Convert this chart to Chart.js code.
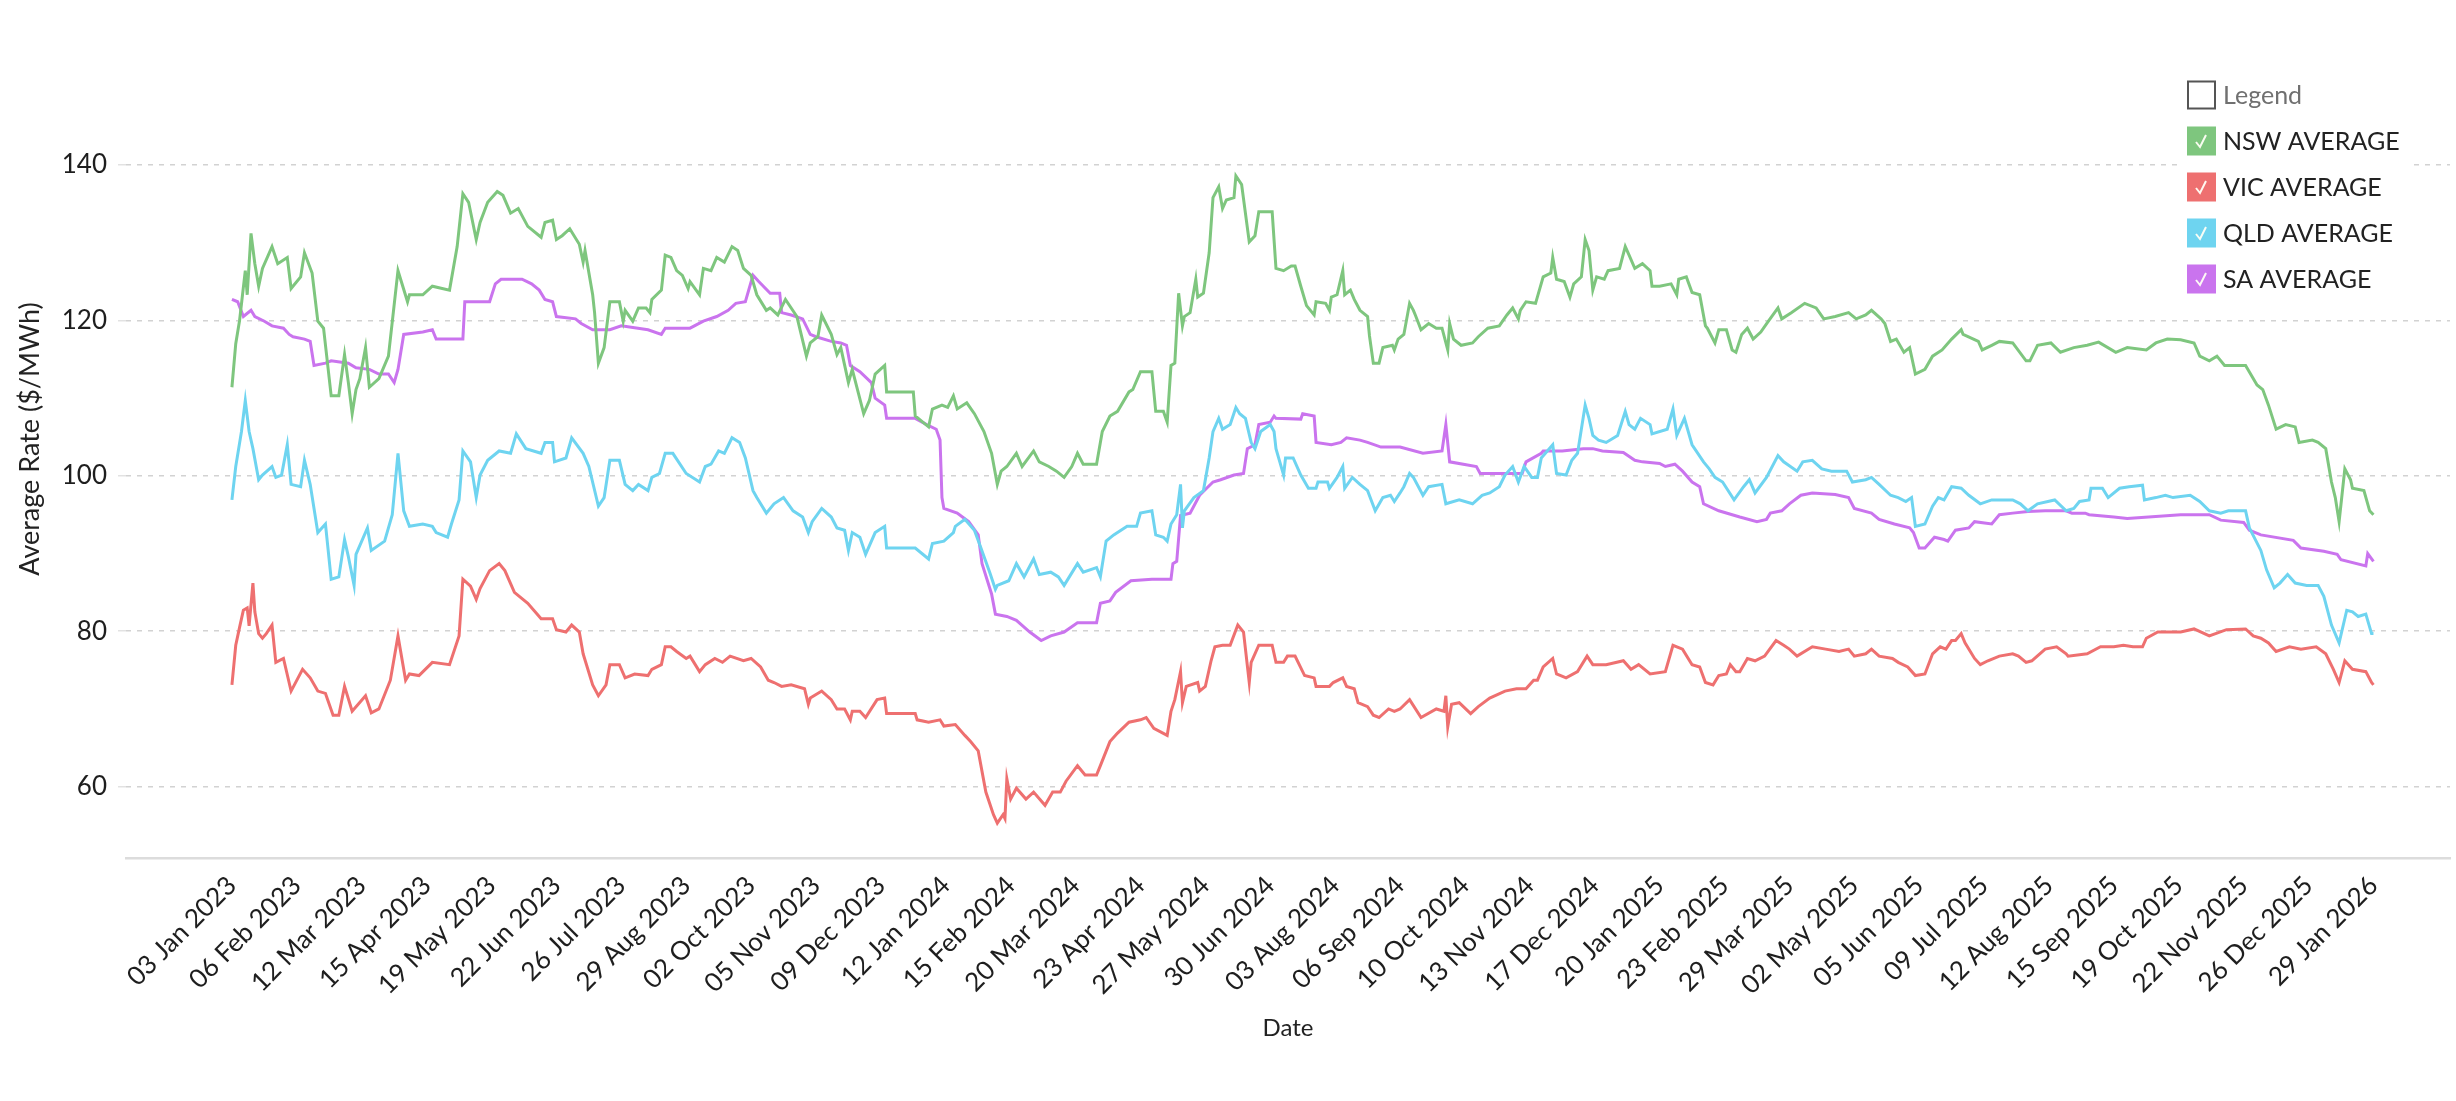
<!DOCTYPE html>
<html>
<head>
<meta charset="utf-8">
<script src="https://cdn.jsdelivr.net/npm/chart.js@4.4.1/dist/chart.umd.min.js"></script>
<style>
html,body{margin:0;padding:0;background:#fff;}
#wrap{width:2456px;height:1101px;position:relative;}
canvas{display:block;}
</style>
</head>
<body>
<div id="wrap"><canvas id="c" width="2456" height="1101"></canvas></div>
<script>
// Day offsets are counted from 03 Jan 2023 (day 0).
const START_DATE = '03 Jan 2023';
const tickLabels = ['03 Jan 2023','06 Feb 2023','12 Mar 2023','15 Apr 2023','19 May 2023','22 Jun 2023','26 Jul 2023','29 Aug 2023','02 Oct 2023','05 Nov 2023','09 Dec 2023','12 Jan 2024','15 Feb 2024','20 Mar 2024','23 Apr 2024','27 May 2024','30 Jun 2024','03 Aug 2024','06 Sep 2024','10 Oct 2024','13 Nov 2024','17 Dec 2024','20 Jan 2025','23 Feb 2025','29 Mar 2025','02 May 2025','05 Jun 2025','09 Jul 2025','12 Aug 2025','15 Sep 2025','19 Oct 2025','22 Nov 2025','26 Dec 2025','29 Jan 2026'];
const yTicks = [60, 80, 100, 120, 140];
const seriesNames = ['NSW AVERAGE','VIC AVERAGE','QLD AVERAGE','SA AVERAGE'];
const legendTitle = 'Legend';
const xTitle = 'Date';
const yTitle = 'Average Rate ($/MWh)';

// [day, $/MWh]
const nsw = [[0,111.4],[2,117],[4,120],[7,126.4],[8,123.3],[10,131.2],[12,127.3],[14,124.4],[16,126.7],[21,129.5],[24,127.3],[29,128.1],[31,124.1],[36,125.6],[38,128.7],[42,126.1],[45,119.9],[48,119],[52,110.3],[56,110.3],[59,115.6],[61,112],[63,108],[65,111.1],[67,112.5],[70,116.5],[72,111.4],[77,112.5],[82,115.4],[87,126.4],[92,122.4],[93,123.3],[100,123.3],[105,124.4],[114,123.9],[118,129.5],[121,136.3],[124,135.2],[128,130.4],[130,132.6],[134,135.2],[139,136.6],[142,136.1],[146,133.8],[150,134.4],[155,132.1],[162,130.7],[164,132.6],[168,132.9],[170,130.4],[173,130.9],[177,131.8],[182,129.8],[184,127.5],[185,129],[189,123.3],[190,121],[192,114.5],[195,116.5],[198,122.4],[203,122.4],[205,119.9],[206,121.3],[210,119.9],[213,121.6],[217,121.6],[219,121],[220,122.7],[225,123.9],[227,128.4],[230,128.1],[233,126.4],[236,125.8],[239,124.1],[240,125],[245,123.3],[247,126.7],[251,126.4],[254,128.1],[258,127.5],[262,129.5],[265,129],[268,126.7],[272,125.8],[275,123.3],[280,121.3],[282,121.6],[286,120.7],[290,122.7],[296,120.5],[301,115.4],[303,117.1],[307,117.9],[309,120.7],[314,118.2],[317,115.6],[319,116.5],[323,112],[325,113.7],[331,108],[334,109.7],[337,113.1],[342,114.2],[343,110.8],[357,110.8],[358,107.7],[365,106.3],[367,108.6],[372,109.1],[375,108.8],[378,110.3],[380,108.6],[385,109.4],[389,108],[394,105.7],[398,102.9],[401,98.9],[403,100.6],[406,101.2],[411,102.9],[414,101.2],[420,103.2],[423,101.8],[428,101.2],[432,100.6],[436,99.8],[440,101.2],[443,102.9],[446,101.5],[453,101.5],[456,105.7],[460,107.7],[464,108.3],[470,110.8],[472,111.1],[476,113.4],[482,113.4],[484,108.3],[488,108.3],[490,106.9],[492,114.2],[494,114.5],[496,123.5],[498,119.3],[499,120.5],[502,121],[505,125.3],[506,123],[509,123.5],[512,128.7],[514,135.8],[517,137.2],[519,134.4],[521,135.5],[525,135.8],[526,138.6],[529,137.5],[533,130.1],[536,130.9],[538,134],[545,134],[547,126.7],[551,126.4],[555,127],[557,127],[560,124.4],[563,121.9],[567,120.7],[568,122.4],[573,122.2],[575,121.3],[576,123],[579,123.3],[582,126.4],[583,123.3],[586,123.9],[588,122.7],[591,121.3],[595,120.5],[596,118],[598,114.5],[601,114.5],[603,116.5],[608,116.8],[609,116.2],[611,117.6],[614,118.2],[617,122.2],[619,121.3],[620,120.7],[623,118.8],[627,119.6],[631,119],[634,119],[637,116.2],[638,119.6],[640,117.6],[644,116.8],[650,117.1],[653,117.9],[658,119],[664,119.3],[668,120.7],[671,121.6],[674,120.2],[675,121.3],[678,122.4],[683,122.2],[687,125.6],[691,126.1],[692,128.1],[694,125.3],[698,125],[701,123],[703,124.7],[707,125.6],[709,130.4],[711,129],[713,123.9],[715,125.6],[719,125.3],[721,126.4],[727,126.7],[730,129.5],[732,128.4],[735,126.7],[739,127.3],[743,126.4],[744,124.4],[748,124.4],[754,124.7],[757,123.3],[758,125.3],[762,125.6],[765,123.6],[769,123.3],[772,119.3],[773,119],[777,117.1],[779,118.8],[783,118.8],[786,116.2],[788,115.9],[791,118.2],[794,119],[797,117.6],[801,118.5],[805,119.9],[810,121.6],[812,120.2],[817,121],[824,122.2],[830,121.6],[834,120.2],[840,120.5],[847,121],[851,120.2],[856,120.7],[859,121.3],[864,120.2],[866,119.6],[869,117.3],[872,117.6],[876,115.9],[879,116.5],[882,113.1],[887,113.7],[891,115.4],[896,116.2],[901,117.6],[906,118.8],[907,118.2],[915,117.3],[917,116.2],[922,116.8],[926,117.3],[933,117.1],[940,114.8],[942,114.8],[946,116.8],[953,117.1],[958,115.9],[965,116.5],[972,116.8],[978,117.2],[987,115.9],[993,116.5],[1003,116.2],[1008,117.1],[1014,117.6],[1021,117.5],[1028,117.1],[1031,115.4],[1036,114.8],[1040,115.4],[1044,114.2],[1055,114.2],[1061,111.7],[1064,111.1],[1067,109.1],[1071,106],[1076,106.6],[1081,106.3],[1083,104.3],[1090,104.6],[1093,104.3],[1097,103.5],[1100,99.2],[1102,97.2],[1104,94.1],[1107,100.9],[1110,99.5],[1111,98.4],[1117,98.1],[1120,95.5],[1122,95]];

const vic = [[0,73.1],[2,78.2],[4,80.5],[6,82.7],[8,83],[9,80.7],[11,86.2],[12,82.5],[14,79.7],[16,79.1],[18,79.7],[21,80.8],[23,76],[27,76.5],[31,72.3],[37,75.1],[41,74],[45,72.3],[49,72],[53,69.2],[56,69.2],[59,72.9],[63,69.7],[70,71.7],[73,69.5],[77,70],[83,73.7],[87,79.4],[91,73.7],[93,74.5],[98,74.3],[105,76],[114,75.7],[119,79.4],[121,86.7],[125,85.8],[128,84.1],[130,85.5],[135,87.8],[140,88.7],[143,87.8],[148,85],[155,83.6],[162,81.6],[168,81.6],[170,80.2],[175,79.9],[178,80.8],[182,79.9],[184,77.1],[189,73.1],[192,71.7],[196,73.1],[198,75.7],[203,75.7],[206,74],[211,74.5],[218,74.3],[220,75.1],[225,75.7],[227,78],[230,78],[233,77.4],[238,76.5],[240,76.8],[245,74.8],[248,75.7],[253,76.5],[257,76],[261,76.8],[268,76.2],[272,76.5],[277,75.4],[281,73.7],[284,73.4],[288,72.9],[293,73.1],[300,72.6],[302,70.6],[303,71.4],[309,72.3],[314,71.2],[317,70],[321,70],[324,68.6],[325,69.7],[329,69.7],[332,68.9],[338,71.2],[342,71.4],[343,69.4],[358,69.4],[359,68.6],[365,68.3],[371,68.6],[373,67.8],[379,68],[384,66.6],[387,65.8],[391,64.6],[395,59.3],[399,56.4],[401,55.3],[404,56.4],[405,55.9],[406,61],[408,58.4],[411,59.8],[416,58.4],[420,59.3],[426,57.6],[430,59.3],[434,59.3],[437,60.7],[443,62.7],[447,61.5],[453,61.5],[455,62.7],[460,65.8],[464,66.9],[470,68.3],[476,68.6],[479,68.9],[483,67.5],[490,66.6],[492,69.7],[494,71.2],[497,74.8],[498,70.8],[500,72.9],[506,73.4],[507,72.3],[510,72.9],[513,76.2],[515,78],[519,78.2],[523,78.2],[527,80.8],[530,79.9],[533,73.4],[534,76],[538,78.2],[545,78.2],[547,76],[551,76],[553,76.8],[557,76.8],[562,74.3],[567,74],[568,72.9],[575,72.9],[577,73.4],[582,74],[584,72.9],[588,72.6],[590,70.8],[595,70.3],[598,69.2],[601,68.9],[606,70],[609,69.7],[612,70],[617,71.2],[623,68.9],[631,70],[635,69.7],[636,71.7],[637,67.7],[639,70.6],[643,70.8],[649,69.4],[653,70.3],[659,71.4],[667,72.3],[673,72.6],[678,72.6],[682,73.7],[684,73.7],[687,75.4],[692,76.5],[694,74.5],[699,74],[705,74.8],[710,76.8],[713,75.7],[720,75.7],[729,76.2],[733,75.1],[737,75.7],[743,74.5],[751,74.8],[755,78.2],[760,77.7],[765,75.7],[769,75.4],[772,73.4],[776,73.1],[779,74.3],[783,74.5],[785,75.7],[788,74.8],[790,74.8],[794,76.5],[798,76.2],[803,76.8],[809,78.8],[813,78.2],[816,77.7],[820,76.8],[828,78],[835,77.7],[842,77.4],[847,77.7],[850,76.8],[856,77.1],[859,77.7],[863,76.8],[870,76.5],[873,76],[878,75.4],[882,74.3],[887,74.5],[891,77.1],[895,78],[898,77.7],[901,78.8],[903,78.8],[906,79.7],[908,78.5],[913,76.5],[916,75.7],[920,76.2],[926,76.8],[933,77.1],[936,76.8],[940,76],[943,76.2],[950,77.7],[956,78],[961,77.1],[962,76.8],[972,77.1],[979,78],[986,78],[991,78.2],[996,78],[1001,78],[1003,79.1],[1009,79.9],[1021,79.9],[1028,80.3],[1036,79.4],[1045,80.2],[1055,80.3],[1059,79.4],[1063,79.1],[1067,78.5],[1071,77.4],[1078,78],[1084,77.7],[1092,78],[1097,77.1],[1101,75.1],[1104,73.4],[1107,76.2],[1111,75.1],[1118,74.8],[1121,73.4],[1122,73.1]];

const qld = [[0,96.9],[2,101.2],[5,105.7],[7,109.7],[9,105.7],[10,104.6],[11,103.5],[14,99.5],[16,100.1],[21,101.2],[23,99.8],[26,100.1],[29,104],[31,98.9],[36,98.6],[38,102],[41,98.9],[45,92.7],[49,93.8],[52,86.7],[56,87],[59,91.8],[61,89.6],[64,85.9],[65,89.9],[71,93.3],[73,90.4],[80,91.6],[84,95],[87,102.9],[90,95.5],[93,93.5],[100,93.8],[105,93.5],[107,92.7],[113,92.1],[115,93.8],[119,96.9],[121,103.2],[125,101.8],[128,97.2],[130,100.1],[134,102],[140,103.2],[146,102.9],[149,105.4],[154,103.5],[162,102.9],[164,104.3],[168,104.3],[169,101.8],[175,102.3],[178,104.9],[184,102.9],[187,101.2],[192,96.1],[195,97.2],[198,102],[203,102],[206,98.9],[210,98.1],[213,98.9],[218,98.1],[220,99.8],[224,100.3],[227,102.9],[231,102.9],[238,100.3],[245,99.2],[248,101.2],[251,101.5],[255,103.2],[258,102.9],[262,104.9],[266,104.3],[269,102.3],[273,98.1],[275,97.2],[280,95.2],[284,96.4],[289,97.2],[294,95.5],[299,94.7],[302,92.7],[304,94.1],[309,95.8],[314,94.7],[317,93.3],[321,93],[323,90.4],[325,92.7],[329,92.1],[332,89.9],[337,92.7],[342,93.5],[343,90.7],[358,90.7],[365,89.3],[367,91.3],[373,91.6],[378,92.7],[379,93.5],[384,94.4],[389,93],[392,91],[397,87.6],[400,85.4],[401,85.9],[407,86.5],[411,88.7],[415,87],[420,89.3],[423,87.3],[429,87.6],[433,87],[436,85.9],[443,88.7],[446,87.6],[453,88.2],[455,87],[458,91.6],[462,92.4],[469,93.5],[474,93.5],[476,95.2],[482,95.5],[484,92.4],[488,92.1],[490,91.6],[492,93.8],[495,95],[497,98.9],[498,93.3],[499,95.5],[504,97.2],[509,98.1],[512,102.3],[514,105.7],[517,107.4],[519,106],[523,106.6],[526,108.8],[528,108],[531,107.4],[534,104.3],[536,103.5],[539,105.7],[544,106.6],[546,105.7],[547,103.5],[549,101.8],[551,100.1],[552,102.3],[556,102.3],[560,100.1],[564,98.4],[568,98.4],[569,99.2],[574,99.2],[575,98.4],[579,99.8],[582,101.2],[583,98.4],[587,99.8],[591,98.9],[595,98.1],[599,95.5],[603,97.2],[607,97.5],[609,96.7],[612,97.8],[614,98.6],[617,100.3],[619,99.8],[624,97.5],[627,98.6],[634,98.9],[636,96.4],[643,96.9],[650,96.4],[655,97.5],[659,97.8],[664,98.6],[667,100.1],[671,101.2],[674,99.2],[677,101.2],[681,99.8],[684,99.8],[686,102.3],[692,104],[694,100.3],[699,100.1],[702,102],[705,102.9],[709,109.1],[711,107.4],[713,105.2],[716,104.6],[720,104.3],[726,105.2],[730,108.3],[732,106.6],[735,106],[738,107.4],[743,106.6],[744,105.4],[752,106],[755,108.6],[757,105.2],[761,107.4],[765,104],[771,101.8],[774,100.9],[777,99.8],[781,99.2],[787,96.9],[792,98.6],[795,99.5],[798,97.8],[804,99.8],[810,102.6],[813,101.8],[820,100.6],[823,101.8],[828,102],[833,100.9],[838,100.6],[846,100.6],[849,99.2],[856,99.5],[859,99.8],[863,98.9],[869,97.5],[873,97.2],[877,96.7],[880,97.2],[882,93.5],[887,93.8],[891,96.1],[894,97.2],[897,96.9],[901,98.6],[906,98.4],[910,97.5],[916,96.4],[922,96.9],[926,96.9],[933,96.9],[937,96.4],[941,95.5],[946,96.4],[955,96.9],[961,95.5],[965,95.8],[968,96.7],[973,96.9],[974,98.4],[980,98.4],[983,97.2],[989,98.4],[994,98.6],[1001,98.8],[1002,96.9],[1008,97.2],[1013,97.5],[1017,97.2],[1026,97.5],[1031,96.7],[1036,95.5],[1042,95.2],[1046,95.5],[1055,95.5],[1057,93.3],[1063,90.4],[1066,87.9],[1070,85.6],[1073,86.2],[1077,87.3],[1081,86.2],[1087,85.9],[1093,85.9],[1096,84.5],[1100,80.8],[1104,78.5],[1108,82.7],[1111,82.5],[1114,81.9],[1118,82.2],[1121,79.7],[1122,79.7]];

const sa = [[0,122.7],[3,122.4],[6,120.5],[10,121.3],[12,120.5],[17,119.9],[21,119.3],[27,119],[30,118.2],[32,117.9],[38,117.6],[41,117.3],[43,114.2],[49,114.5],[52,114.8],[61,114.5],[65,113.9],[72,113.7],[77,113.1],[82,113.1],[85,112],[87,113.7],[90,118.2],[100,118.5],[105,118.8],[107,117.6],[121,117.6],[122,122.4],[135,122.4],[138,124.7],[141,125.3],[152,125.3],[157,124.7],[161,123.9],[164,122.7],[168,122.4],[170,120.5],[180,120.2],[183,119.6],[189,118.8],[198,118.8],[204,119.3],[218,118.8],[225,118.2],[227,119],[240,119],[247,119.9],[254,120.5],[260,121.3],[264,122.2],[269,122.4],[273,125.8],[276,125],[282,123.5],[287,123.5],[288,121],[293,120.7],[299,120.2],[303,118.2],[306,117.9],[314,117.3],[319,117.1],[322,116.8],[324,114.2],[329,113.4],[335,112],[337,110],[342,109.1],[343,107.4],[358,107.4],[364,106.6],[369,106],[371,104.6],[372,97.2],[373,95.8],[380,95.2],[386,94.1],[391,92.4],[393,88.7],[398,84.8],[400,82.2],[406,81.9],[411,81.4],[418,79.9],[424,78.8],[429,79.4],[436,79.9],[443,81.1],[453,81.1],[455,83.6],[460,83.9],[463,85],[471,86.5],[482,86.7],[492,86.7],[493,88.7],[495,89],[497,94.9],[502,95.2],[507,97.5],[514,99.2],[518,99.5],[525,100.1],[530,100.3],[532,103.5],[536,104],[538,106.6],[544,106.9],[546,107.7],[547,107.4],[560,107.3],[561,108],[567,107.7],[568,104.3],[576,104],[581,104.3],[584,104.9],[591,104.6],[595,104.3],[602,103.7],[612,103.7],[624,102.9],[634,103.2],[636,106.6],[638,101.8],[652,101.2],[654,100.3],[676,100.3],[678,101.8],[686,102.9],[687,103.2],[697,103.2],[708,103.5],[713,103.5],[718,103.2],[729,103],[735,102],[739,101.8],[748,101.6],[751,101.2],[756,101.5],[760,100.6],[765,99.2],[769,98.6],[771,96.4],[779,95.5],[790,94.7],[799,94.1],[804,94.4],[806,95.2],[812,95.5],[816,96.4],[822,97.5],[828,97.8],[840,97.6],[847,97.2],[850,95.8],[859,95.2],[863,94.4],[871,93.8],[879,93.3],[881,92.7],[884,90.7],[887,90.7],[892,92.1],[897,91.8],[899,91.6],[903,93],[910,93.3],[913,94.1],[922,93.8],[926,95],[933,95.2],[941,95.4],[950,95.5],[961,95.5],[964,95.2],[971,95.2],[973,95],[986,94.7],[993,94.5],[1021,95],[1036,95],[1042,94.3],[1054,94],[1057,93],[1063,92.4],[1080,91.7],[1084,90.7],[1096,90.3],[1103,89.9],[1105,89.2],[1118,88.4],[1119,90],[1122,89]];

const MONTHS = ['Jan','Feb','Mar','Apr','May','Jun','Jul','Aug','Sep','Oct','Nov','Dec'];
function dayOf(label) {
  const p = label.split(' ');
  const s = START_DATE.split(' ');
  return (Date.UTC(+p[2], MONTHS.indexOf(p[1]), +p[0]) - Date.UTC(+s[2], MONTHS.indexOf(s[1]), +s[0])) / 86400000;
}
const tickDays = tickLabels.map(dayOf);

const colors = ['rgb(126,198,126)','rgb(238,112,112)','rgb(110,212,240)','rgb(202,116,238)'];
const seriesData = [nsw, vic, qld, sa];

const FONT = 'Lato, "Open Sans", sans-serif';

const boxLegend = {
  id: 'boxLegend',
  afterDraw(chart) {
    const ctx = chart.ctx;
    const x0 = 2187, y0 = 95, gap = 46, box = 29;
    ctx.save();
    ctx.fillStyle = '#ffffff';
    ctx.fillRect(2178, 70, 236, 232);
    ctx.textBaseline = 'middle';
    ctx.textAlign = 'left';
    ctx.font = '25px ' + FONT;
    ctx.strokeStyle = '#555';
    ctx.lineWidth = 2;
    ctx.strokeRect(x0 + 1, y0 - box / 2 + 1, box - 2, box - 2);
    ctx.fillStyle = '#707070';
    ctx.fillText(legendTitle, x0 + box + 7, y0 + 1);
    chart.data.datasets.forEach((ds, i) => {
      const y = y0 + gap * (i + 1);
      ctx.fillStyle = ds.borderColor;
      ctx.fillRect(x0, y - box / 2, box, box);
      ctx.strokeStyle = 'rgba(255,255,245,0.95)';
      ctx.lineWidth = 2;
      ctx.beginPath();
      ctx.moveTo(x0 + 9, y + 1);
      ctx.lineTo(x0 + 13, y + 6);
      ctx.lineTo(x0 + 19, y - 6);
      ctx.stroke();
      ctx.fillStyle = '#222';
      ctx.fillText(ds.label, x0 + box + 7, y + 1);
    });
    ctx.restore();
  }
};

new Chart(document.getElementById('c'), {
  type: 'line',
  data: {
    datasets: seriesData.map((arr, i) => ({
      label: seriesNames[i],
      data: arr.map(p => ({ x: p[0], y: p[1] })),
      borderColor: colors[i],
      backgroundColor: colors[i],
      borderWidth: 3,
      pointRadius: 0,
      tension: 0,
      fill: false
    }))
  },
  options: {
    responsive: false,
    animation: false,
    devicePixelRatio: 1,
    layout: { padding: { left: 14, right: 6, top: 20, bottom: 58 } },
    plugins: { legend: { display: false }, tooltip: { enabled: false } },
    scales: {
      x: {
        type: 'linear',
        min: -55.5,
        max: 1162.1,
        afterBuildTicks: axis => { axis.ticks = tickDays.map(v => ({ value: v })); },
        afterFit: axis => { axis.height = 185; axis.paddingLeft = 0; axis.paddingRight = 0; },
        ticks: {
          autoSkip: false,
          minRotation: 45,
          maxRotation: 45,
          padding: 12,
          color: '#1e1e1e',
          font: { family: FONT, size: 26 },
          callback: (v, i) => tickLabels[i]
        },
        grid: { display: false, drawTicks: false },
        border: { display: true, color: '#dcdcdc', width: 2.5 },
        title: { display: true, text: xTitle, color: '#222', font: { family: FONT, size: 24 }, padding: { top: 0, bottom: 0 } }
      },
      y: {
        min: 50.82,
        max: 158.66,
        afterBuildTicks: axis => { axis.ticks = yTicks.map(v => ({ value: v })); },
        afterFit: axis => { axis.width = 112; axis.paddingTop = 0; axis.paddingBottom = 0; },
        ticks: { color: '#1e1e1e', padding: 11, font: { family: FONT, size: 26 } },
        grid: { color: '#d2d2d2', lineWidth: 1.5, drawTicks: true, tickLength: 8, tickColor: '#e2e2e2', tickWidth: 1.5 },
        border: { display: false, dash: [5, 6] },
        title: { display: true, text: yTitle, color: '#222', font: { family: FONT, size: 27 }, padding: { top: 0, bottom: 0 } }
      }
    }
  },
  plugins: [boxLegend]
});
</script>
</body>
</html>
